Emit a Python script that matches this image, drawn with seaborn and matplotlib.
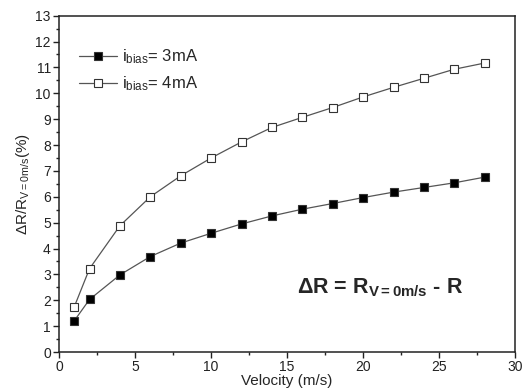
import matplotlib
matplotlib.use("Agg")
import matplotlib.pyplot as plt
import seaborn as sns
import pandas as pd
from matplotlib.ticker import MultipleLocator

velocity = [1, 2, 4, 6, 8, 10, 12, 14, 16, 18, 20, 22, 24, 26, 28]
dr_3mA = [1.21, 2.03, 2.98, 3.69, 4.21, 4.59, 4.95, 5.26, 5.52, 5.74, 5.97, 6.18, 6.36, 6.54, 6.76]
dr_4mA = [1.75, 3.22, 4.88, 6.0, 6.81, 7.5, 8.12, 8.68, 9.07, 9.45, 9.86, 10.23, 10.58, 10.93, 11.17]
series_labels = [r"i$_{\mathregular{bias}}$= 3mA", r"i$_{\mathregular{bias}}$= 4mA"]

sns.set_theme(style="ticks")
plt.rcParams['font.family'] = ['Liberation Sans', 'DejaVu Sans']
plt.rcParams['mathtext.fontset'] = 'custom'
plt.rcParams['mathtext.rm'] = 'Liberation Sans'
plt.rcParams['mathtext.it'] = 'Liberation Sans'
plt.rcParams['mathtext.bf'] = 'Liberation Sans:bold'

df = pd.DataFrame({
    "v": velocity * 2,
    "dr": dr_3mA + dr_4mA,
    "s": [series_labels[0]] * len(velocity) + [series_labels[1]] * len(velocity),
})

fig = plt.figure(figsize=(5.23, 3.92), dpi=100)
ax = fig.add_axes([0.113, 0.102, 0.872, 0.858])

faces = ["black", "white"]
for lab, fc in zip(series_labels, faces):
    sub = df[df["s"] == lab]
    sns.lineplot(data=sub, x="v", y="dr", ax=ax, color="#555555", lw=0.9,
                 marker="s", markersize=5.5, markerfacecolor=fc,
                 markeredgecolor="#333333", markeredgewidth=0.8, label=lab)

ax.set_xlim(0, 30)
ax.set_ylim(0, 13)
ax.xaxis.set_major_locator(MultipleLocator(5))
ax.xaxis.set_minor_locator(MultipleLocator(2.5))
ax.yaxis.set_major_locator(MultipleLocator(1))
ax.yaxis.set_minor_locator(MultipleLocator(0.5))
ax.tick_params(which="major", direction="out", length=4, width=1, labelsize=10, pad=2, colors="#222222")
ax.tick_params(which="minor", direction="out", length=2.5, width=1, colors="#222222")
for sp in ax.spines.values():
    sp.set_visible(True)
    sp.set_linewidth(1.1)
    sp.set_color("#222222")

ax.set_xlabel("Velocity (m/s)", fontsize=11, labelpad=0)
ax.set_ylabel(r"$\Delta$R/R$_{\mathregular{V=0m/s}}$(%)", fontsize=11, labelpad=2)

ax.text(21.1, 2.47, r"$\mathbf{\Delta}$R = R$_{\mathbf{V=0m/s}}$ - R", fontsize=15.5,
        fontweight="bold", ha="center", va="center")

leg = ax.legend(loc="upper left", bbox_to_anchor=(0.01, 0.95), frameon=False,
                fontsize=12, handlelength=2.3, handletextpad=0.3, labelspacing=0.5)

fig.savefig("out.png", dpi=100)
